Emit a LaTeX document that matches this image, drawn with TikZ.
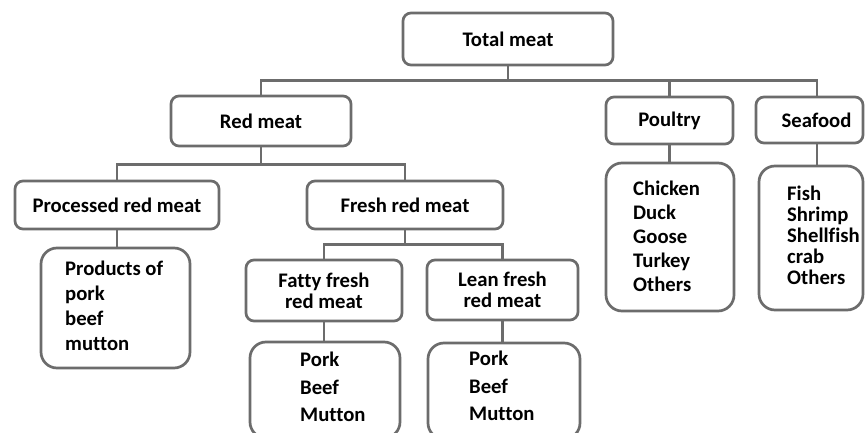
\documentclass[tikz,border=0pt]{standalone}
\usepackage{fontspec}
\setmainfont{Carlito}[Ligatures=NoCommon]
\usetikzlibrary{calc}
\definecolor{linegray}{HTML}{6C6C6C}
\tikzset{
  box/.style={draw=linegray, line width=2.7pt, rounded corners=8pt, inner sep=0pt, align=center,
    font=\fontsize{20.7}{21}\selectfont\bfseries, text=black},
  listbox/.style={draw=linegray, line width=2.7pt, rounded corners=16pt, inner sep=0pt},
  listtext/.style={anchor=west, align=left, inner sep=0pt, text=black},
  conn/.style={draw=linegray, line width=2.7pt},
}
\newcommand{\lf}[1]{\fontsize{20.7}{#1}\selectfont\bfseries}
\begin{document}
\begin{tikzpicture}[x=1pt,y=-1pt]
\useasboundingbox (0,0) rectangle (865,433);
\fill[white] (0,0) rectangle (865,433);

\node[box, minimum width=210pt, minimum height=52pt] (total) at (508,39) {Total meat};
\node[box, minimum width=180pt, minimum height=50pt] (red) at (261,121) {Red meat};
\node[box, minimum width=127pt, minimum height=47pt] (poultry) at (669.5,120.5) {Poultry};
\node[box, minimum width=107pt, minimum height=46pt] (seafood) at (809.5,120) {\hspace*{14pt}Seafood};

\node[box, minimum width=204pt, minimum height=48pt] (proc) at (117,205) {Processed red meat};
\node[box, minimum width=196pt, minimum height=48pt] (fresh) at (405,205) {Fresh red meat};

\node[box, minimum width=156pt, minimum height=61pt] (fatty) at (324,290.5) {Fatty fresh\\red meat};
\node[box, minimum width=151pt, minimum height=60pt] (lean) at (502.5,290) {Lean fresh\\red meat};

% list boxes
\node[listbox, minimum width=149pt, minimum height=120pt] (prodbox) at (115.5,308) {};
\node[listtext, font=\lf{25}] (prod) at (65,306) {Products of\\pork\\beef\\mutton};

\node[listbox, minimum width=150pt, minimum height=96pt] (fattybox) at (325,390) {};
\node[listtext, font=\lf{27.5}] (fattyl) at (300,387) {Pork\\Beef\\Mutton};

\node[listbox, minimum width=152pt, minimum height=96pt] (leanbox) at (504,391) {};
\node[listtext, font=\lf{27.5}] (leanl) at (469,386) {Pork\\Beef\\Mutton};

\node[listbox, minimum width=128pt, minimum height=148pt] (poulbox) at (670,237) {};
\node[listtext, font=\lf{24}] (poull) at (633,236) {Chicken\\Duck\\Goose\\Turkey\\Others};

\node[listbox, minimum width=104pt, minimum height=144pt] (seabox) at (811,238) {};
\node[listtext, font=\lf{21}] (seal) at (787,235) {Fish\\Shrimp\\Shellfish\\crab\\Others};

% connectors
\coordinate (bus1) at ($(total.south)+(0,14)$);
\coordinate (seatop) at ($(seafood.north)+(7.5,0)$);
\coordinate (seabot) at ($(seafood.south)+(7.5,0)$);
\draw[conn] (total.south) -- (bus1) -| (red.north);
\draw[conn] (bus1) -| (poultry.north);
\draw[conn] (bus1) -| (seatop);

\coordinate (bus2) at ($(red.south)+(0,17)$);
\draw[conn] (red.south) -- (bus2) -| (proc.north);
\draw[conn] (bus2) -| (fresh.north);

\draw[conn] (proc.south) -- (prodbox.north -| proc.south);

\coordinate (bus3) at ($(fresh.south)+(0,14)$);
\draw[conn] (fresh.south) -- (bus3) -| (fatty.north);
\draw[conn] (bus3) -| (lean.north);

\draw[conn] (fatty.south) -- (fattybox.north -| fatty.south);
\draw[conn] (lean.south) -- (leanbox.north -| lean.south);
\draw[conn] (poultry.south) -- (poulbox.north -| poultry.south);
\draw[conn] (seabot) -- (seabox.north -| seabot);
\end{tikzpicture}
\end{document}
